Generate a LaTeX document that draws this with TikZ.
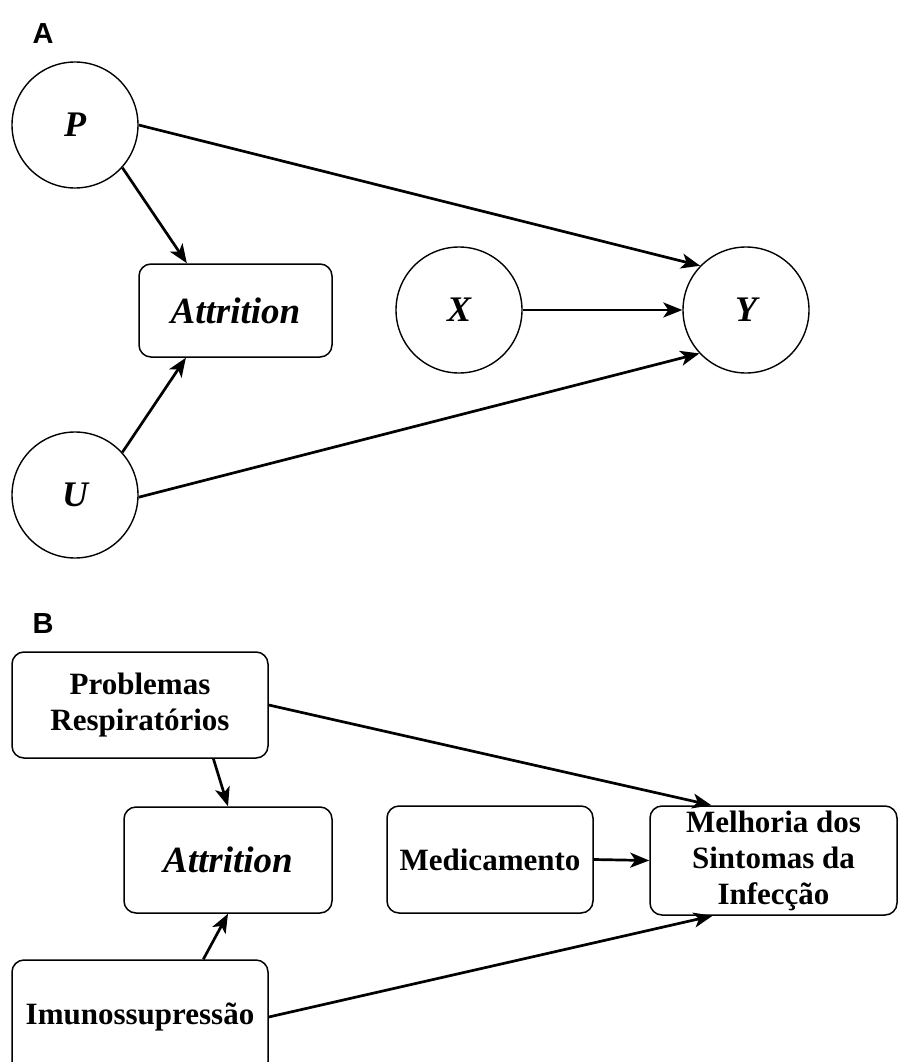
\documentclass[tikz,border=0pt]{standalone}
\usepackage{fontspec}
\setmainfont{Liberation Serif}
\setsansfont{Liberation Sans}
\usetikzlibrary{arrows.meta,calc}

\begin{document}
\begin{tikzpicture}[x=1pt,y=-1pt,
  var/.style={circle,draw,line width=1.4pt,minimum size=126pt,inner sep=0pt,
    font=\fontsize{36}{40}\selectfont\bfseries\itshape},
  box/.style={draw,line width=1.5pt,rounded corners=12pt,inner sep=0pt,align=center,
    font=\fontsize{31}{36}\selectfont\bfseries},
  ital/.style={font=\fontsize{37}{40}\selectfont\bfseries\itshape},
  link/.style={line width=2.7pt,-{Stealth[length=19pt,width=15pt,inset=5pt]}},
  panel/.style={font=\sffamily\bfseries\fontsize{29}{32}\selectfont,inner sep=0pt}]

\useasboundingbox (0,0) rectangle (898,1062);
\clip (0,0) rectangle (898,1062);

% ---- Panel A: causal graph with symbols ----
\node[panel] (labA) at (43,34) {A};
\node[var] (P) at (75,125) {P};
\node[var] (U) at (75,495) {U};
\node[var] (X) at (459,310) {X};
\node[var] (Y) at (746,310) {Y};
\node[box,ital,minimum width=193pt,minimum height=93pt] (attA) at (235.5,310.5) {Attrition};

\draw[link] (P.-42) -- ($(attA.north west)!0.25!(attA.north east)$);
\draw[link] (P.east) -- (Y.136);
\draw[link] (X.east) -- (Y.west);
\draw[link] (U.42) -- ($(attA.south west)!0.245!(attA.south east)$);
\draw[link] (U.-2) -- (Y.-137);

% ---- Panel B: the same graph with named variables ----
\node[panel] (labB) at (43,624) {B};
\node[box,minimum width=256pt,minimum height=106pt] (prob) at (140,705) {Problemas\\Respiratórios};
\node[box,ital,minimum width=208pt,minimum height=106pt] (attB) at (228,860) {Attrition};
\node[box,minimum width=206pt,minimum height=107pt] (med) at (490,859.5) {Medicamento};
\node[box,minimum width=247pt,minimum height=109pt] (mel) at (773.5,860.5) {Melhoria dos\\Sintomas da\\Infecção};
\node[box,minimum width=256pt,minimum height=114pt] (imu) at (140,1017) {Imunossupressão};

\draw[link] ($(prob.south west)!0.785!(prob.south east)$) -- (attB.north);
\draw[link] (prob.east) -- ($(mel.north west)!0.25!(mel.north east)$);
\draw[link] (med.east) -- (mel.west);
\draw[link] ($(imu.north west)!0.746!(imu.north east)$) -- (attB.south);
\draw[link] (imu.east) -- ($(mel.south west)!0.255!(mel.south east)$);
\end{tikzpicture}
\end{document}
